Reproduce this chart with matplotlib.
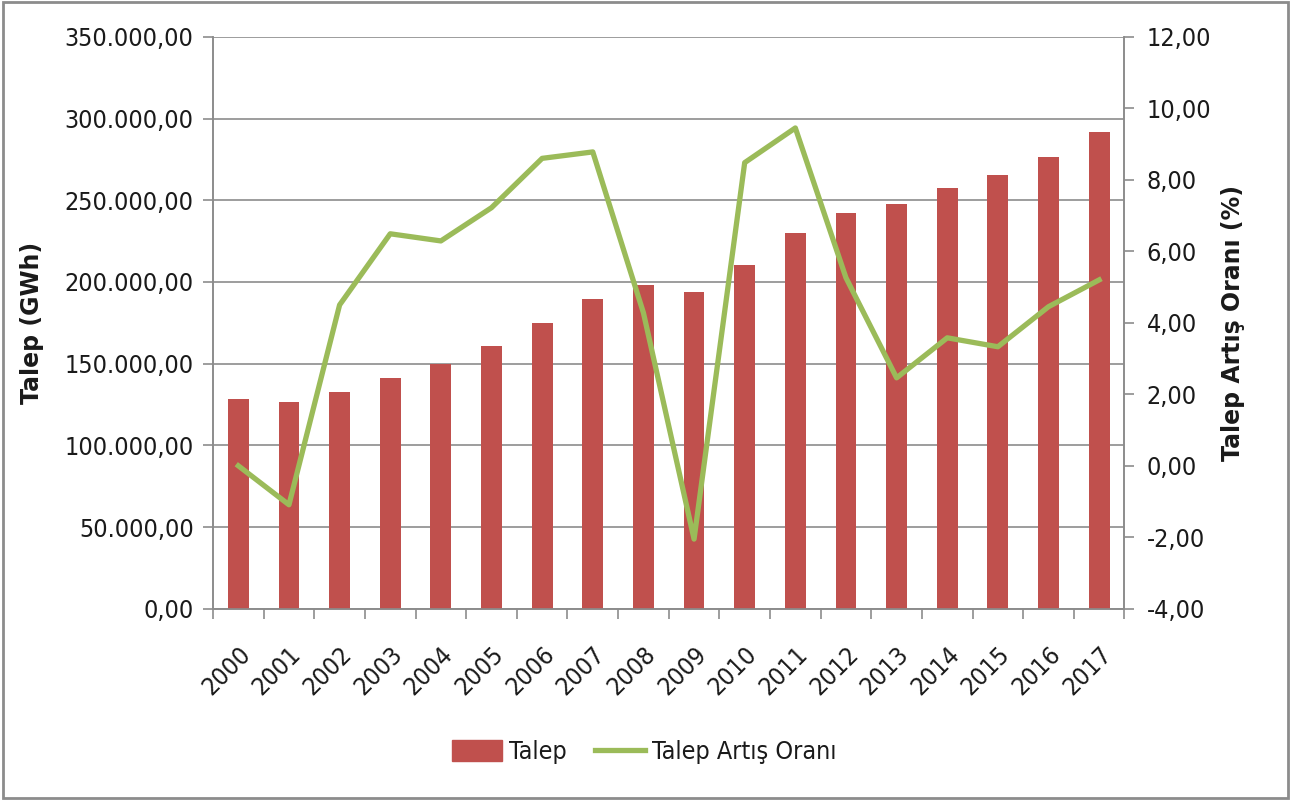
import matplotlib.pyplot as plt
import numpy as np
from matplotlib.patches import Rectangle

# data
years = ['2000', '2001', '2002', '2003', '2004', '2005', '2006', '2007', '2008',
         '2009', '2010', '2011', '2012', '2013', '2014', '2015', '2016', '2017']
talep = [128500, 126700, 132800, 141300, 149900, 160900, 175000, 189700, 198300,
         194000, 210500, 230000, 242300, 247800, 257600, 265600, 276600, 291900]
artis = [0.0, -1.09, 4.50, 6.49, 6.29, 7.22, 8.60, 8.78, 4.28,
         -2.05, 8.48, 9.45, 5.26, 2.46, 3.58, 3.33, 4.45, 5.20]

left_ticks = np.arange(0, 350001, 50000)
right_ticks = np.arange(-4, 12.1, 2)

plt.rcParams['font.family'] = ['DejaVu Sans']
plt.rcParams['font.stretch'] = 'condensed'

bar_c = '#C0504D'
line_c = '#9BBB59'
ax_c = '#8C8C8C'
txt_c = '#1a1a1a'

def fmt_tr(v, dec=2):
    s = f"{v:,.{dec}f}"
    return s.replace(',', 'X').replace('.', ',').replace('X', '.')

fig = plt.figure(figsize=(12.91, 8.0), dpi=100)
ax = fig.add_axes([0.165, 0.239, 0.706, 0.715])
x = np.arange(len(years))
ax.bar(x, talep, width=0.41, color=bar_c, zorder=3)
ax.set_xlim(-0.5, len(years) - 0.5)
ax.set_ylim(0, 350000)
ax.set_yticks(left_ticks)
ax.set_yticklabels([fmt_tr(v) for v in left_ticks], fontsize=18, color=txt_c)
ax.yaxis.grid(True, color='#8C8C8C', linewidth=1.2, zorder=0)
ax.set_xticks(np.arange(-0.5, len(years), 1.0))
ax.set_xticklabels([])
ax.set_xticks(x, minor=True)
ax.set_xticklabels(years, minor=True, rotation=45, ha='right', va='top',
                   rotation_mode='anchor', fontsize=18, color=txt_c)
ax.tick_params(axis='x', which='major', length=7, color=ax_c, width=1.2)
ax.tick_params(axis='x', which='minor', length=0, pad=24)
ax.tick_params(axis='y', length=7, color=ax_c, width=1.2, pad=7)
ax.spines['top'].set_visible(False)
for s in ['left', 'bottom', 'right']:
    ax.spines[s].set_color(ax_c)
    ax.spines[s].set_linewidth(1.2)
ax.set_ylabel('Talep (GWh)', fontsize=17, fontweight='bold', color=txt_c,
              fontstretch='normal')
ax.yaxis.set_label_coords(-0.185, 0.5)

ax2 = ax.twinx()
ax2.plot(x, artis, color=line_c, linewidth=3.8, zorder=4)
ax2.set_ylim(-4, 12)
ax2.set_yticks(right_ticks)
ax2.set_yticklabels([fmt_tr(v) for v in right_ticks], fontsize=18, color=txt_c)
ax2.tick_params(axis='y', length=7, color=ax_c, width=1.2, pad=9)
ax2.spines['top'].set_visible(False)
for s in ['left', 'bottom', 'right']:
    ax2.spines[s].set_color(ax_c)
    ax2.spines[s].set_linewidth(1.2)
ax2.set_ylabel('Talep Artış Oranı (%)', fontsize=17, fontweight='bold', color=txt_c,
               fontstretch='normal')
ax2.yaxis.set_label_coords(1.106, 0.5)

h1 = Rectangle((0, 0), 1, 1, color=bar_c)
h2 = plt.Line2D([], [], color=line_c, linewidth=3.8)
fig.legend([h1, h2], ['Talep', 'Talep Artış Oranı'], loc='center',
           bbox_to_anchor=(0.499, 0.06), ncol=2, frameon=False, fontsize=18,
           handlelength=2.0, handleheight=0.9, columnspacing=1.1, handletextpad=0.3,
           labelcolor=txt_c)

fig.patches.append(Rectangle((0.002, 0.002), 0.996, 0.996, transform=fig.transFigure,
                             fill=False, edgecolor='#8C8C8C', linewidth=2))

fig.savefig('out.png', dpi=100)
